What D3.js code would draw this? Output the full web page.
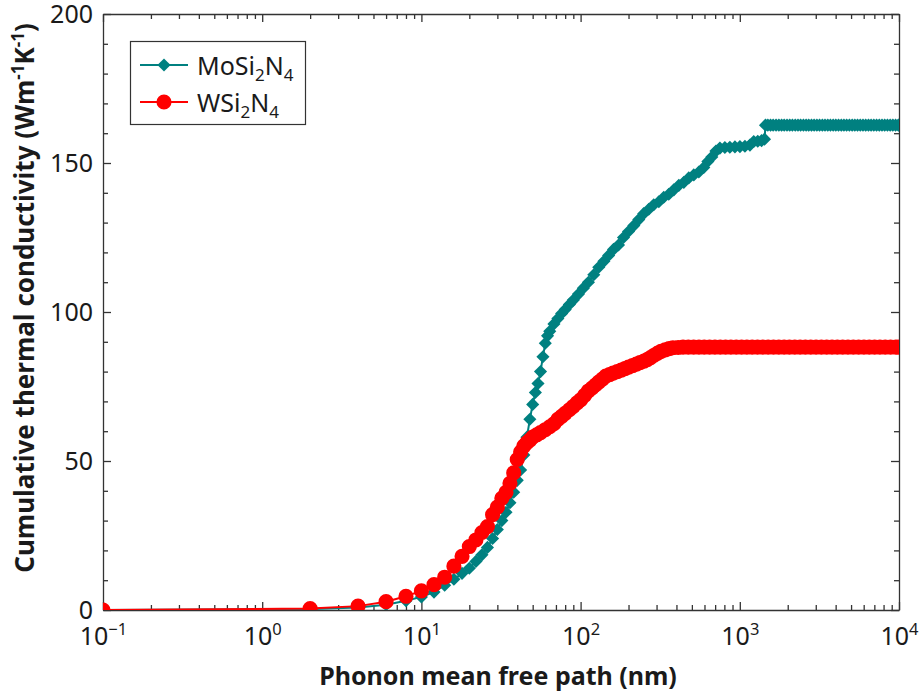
<!DOCTYPE html>
<html>
<head>
<meta charset="utf-8">
<script src="https://cdn.jsdelivr.net/npm/d3@7"></script>
<style>
    body { margin: 0; background: #fff; }
    svg text { font-family: "Noto Sans", sans-serif; fill: #1a1a1a; }
    .axis path, .axis line { stroke: #333; stroke-width: 1.3; }
</style>
</head>
<body>
<div id="chart"></div>
<script>

// Data: mean free path (nm) and cumulative kappa (W/mK)

let moMfp = [0.1, 2, 4, 6, 8, 10,
    12, 14, 16, 18, 20, 22, 24, 26, 28, 30, 32, 34, 36, 38, 40,
    42, 44, 46, 48, 50, 52, 54, 56, 58, 60, 62, 64,
    68, 72, 76, 80, 85, 90,
    97, 104, 112, 121, 130, 140, 150, 161, 173, 186,
    200, 216, 232, 249, 268, 288, 310, 333, 358, 385,
    414, 445, 478, 514, 553, 594, 630, 667, 708, 750,
    806, 866, 932, 1002, 1077, 1158, 1224, 1297, 1370, 1430,
    1450, 1500, 1560, 1620, 1690, 1760, 1830, 1900, 1980, 2060,
    2140, 2230, 2320, 2410, 2510, 2610, 2710, 2820, 2930, 3050,
    3170, 3300, 3430, 3570, 3710, 3860, 4010, 4170, 4340, 4510,
    4690, 4880, 5080, 5280, 5490, 5710, 5940, 6180, 6430, 6680,
    6950, 7230, 7520, 7820, 8130, 8460, 8800, 9150, 9520, 9900,
    10000];

let moKappa = [0, 0.3, 0.8, 1.8, 3.1, 4.4,
    6, 8.3, 10.3, 12.3, 14, 16.3, 18.5, 21, 24, 27, 30, 32.8, 36, 39.5, 43.5,
    47, 52, 58, 64, 69, 73, 76, 80, 85, 89.5, 92, 93.5,
    96, 97.8, 99.5, 100.8, 102.5, 104,
    106, 108, 110, 112.5, 115, 117, 119, 121, 122.5, 125,
    127, 129, 131, 133, 134.5, 136, 137, 138.5, 139.5, 141,
    142.5, 143.5, 145, 146, 147, 148.5, 150.5, 152, 154, 155,
    155.2, 155.3, 155.4, 155.5, 155.6, 156, 157.2, 157.3, 157.5, 158,
    162.7, 162.7, 162.7, 162.7, 162.7, 162.7, 162.7, 162.7, 162.7, 162.7,
    162.7, 162.7, 162.7, 162.7, 162.7, 162.7, 162.7, 162.7, 162.7, 162.7,
    162.7, 162.7, 162.7, 162.7, 162.7, 162.7, 162.7, 162.7, 162.7, 162.7,
    162.7, 162.7, 162.7, 162.7, 162.7, 162.7, 162.7, 162.7, 162.7, 162.7,
    162.7, 162.7, 162.7, 162.7, 162.7, 162.7, 162.7, 162.7, 162.7, 162.7,
    162.7];

let wMfp = [0.1, 2, 4, 6, 8, 10,
    12, 14, 16, 18, 20, 22, 24, 26, 28, 30, 32, 34, 36, 38, 40,
    42, 44, 46, 48, 50,
    53, 56, 60, 64, 68, 72, 76, 80, 85, 90, 95, 100,
    106, 112, 118, 124, 130, 137, 144, 152, 160, 170,
    180, 190, 200, 212, 224, 236, 250, 262, 275, 290,
    305, 320, 340, 360, 380, 410,
    440, 475, 513, 554, 598, 646, 698, 754, 814, 879,
    950, 1026, 1108, 1196, 1292, 1395, 1507, 1628, 1758, 1899,
    2050, 2215, 2392, 2583, 2790, 3013, 3254, 3515, 3796, 4100,
    4428, 4782, 5165, 5578, 6024, 6506, 7027, 7589, 8196, 8852,
    9560, 10000];

let wKappa = [0, 0.5, 1.3, 2.8, 4.6, 6.4,
    8.5, 11, 14.7, 18, 21.3, 23.5, 26, 28, 32, 34.5, 37.5, 39.5, 42.5, 46, 50.5,
    53, 55, 56.2, 57, 58,
    58.8, 59.5, 60.5, 61.5, 62.5, 64, 65, 66, 67.2, 68.3, 69.5, 70.5,
    72, 73.5, 74.5, 75.5, 76.5, 77.5, 78.5, 79, 79.5, 80,
    80.5, 81, 81.5, 82, 82.5, 83, 83.5, 84, 84.7, 85.5,
    86.2, 86.8, 87.3, 87.7, 88, 88.1,
    88.2, 88.2, 88.2, 88.2, 88.2, 88.2, 88.2, 88.2, 88.2, 88.2,
    88.2, 88.2, 88.2, 88.2, 88.2, 88.2, 88.2, 88.2, 88.2, 88.2,
    88.2, 88.2, 88.2, 88.2, 88.2, 88.2, 88.2, 88.2, 88.2, 88.2,
    88.2, 88.2, 88.2, 88.2, 88.2, 88.2, 88.2, 88.2, 88.2, 88.2,
    88.2, 88.2];

let xTickValues = [0.1, 1, 10, 100, 1000, 10000];
let xTickExps = ["\u22121", "0", "1", "2", "3", "4"];
let yTickValues = [0, 50, 100, 150, 200];

let moColor = "#008080",
    wColor = "#ff0000";


// Chart area

let margin = {top: 14, right: 23, bottom: 85, left: 103},
    width = 922 - margin.left - margin.right,
    height = 695 - margin.top - margin.bottom;

let root = d3.select("#chart").append("svg")
    .attr("width", 922)
    .attr("height", 695);

let svg = root.append("g")
    .attr("transform", "translate(" + margin.left + "," + margin.top + ")");

let x = d3.scaleLog()
    .domain([0.1, 10000])
    .range([0, width]);

let y = d3.scaleLinear()
    .domain([0, 200])
    .range([height, 0]);

svg.append("clipPath")
    .attr("id", "plot-clip")
    .append("rect")
    .attr("width", width)
    .attr("height", height);


// ---- AXES ----

let xMinor = x.ticks().filter(d => Math.abs(Math.log10(d) - Math.round(Math.log10(d))) > 1e-6);
let yMinor = y.ticks(20).filter(d => yTickValues.indexOf(d) < 0);

let xAxisG = svg.append("g")
    .attr("class", "axis")
    .attr("transform", "translate(0," + height + ")")
    .call(d3.axisBottom(x).tickValues(xTickValues).tickSizeInner(-8).tickSizeOuter(0)
        .tickPadding(17).tickFormat(""))
    .attr("font-size", 25);

xAxisG.selectAll(".tick text").each(function(d, i) {
    let t = d3.select(this);
    t.text("10");
    t.append("tspan")
        .attr("dy", "-0.62em")
        .attr("font-size", "0.66em")
        .text(xTickExps[i]);
});

svg.append("g")
    .attr("class", "axis")
    .attr("transform", "translate(0," + height + ")")
    .call(d3.axisBottom(x).tickValues(xMinor).tickSize(-5).tickFormat(""))
    .select(".domain").remove();

svg.append("g")
    .attr("class", "axis")
    .call(d3.axisTop(x).tickValues(xTickValues).tickSizeInner(-8).tickSizeOuter(0).tickFormat(""));

svg.append("g")
    .attr("class", "axis")
    .call(d3.axisTop(x).tickValues(xMinor).tickSize(-5).tickFormat(""))
    .select(".domain").remove();

svg.append("g")
    .attr("class", "axis")
    .call(d3.axisLeft(y).tickValues(yTickValues).tickSizeInner(-8).tickSizeOuter(0).tickPadding(10))
    .attr("font-size", 25);

svg.append("g")
    .attr("class", "axis")
    .call(d3.axisLeft(y).tickValues(yMinor).tickSize(-5).tickFormat(""))
    .select(".domain").remove();

svg.append("g")
    .attr("class", "axis")
    .attr("transform", "translate(" + width + ",0)")
    .call(d3.axisRight(y).tickValues(yTickValues).tickSizeInner(-8).tickSizeOuter(0).tickFormat(""));

svg.append("g")
    .attr("class", "axis")
    .attr("transform", "translate(" + width + ",0)")
    .call(d3.axisRight(y).tickValues(yMinor).tickSize(-5).tickFormat(""))
    .select(".domain").remove();


// ---- SERIES ----

let diamond = d3.symbol(d3.symbolSquare, 86)();
let circle = d3.symbol(d3.symbolCircle, 180)();

let plot = svg.append("g").attr("clip-path", "url(#plot-clip)");

function drawSeries(mfp, kappa, color, marker, rot) {
    let pts = mfp.map((m, i) => ({m: m, k: kappa[i]}));

    plot.append("path")
        .datum(pts)
        .attr("fill", "none")
        .attr("stroke", color)
        .attr("stroke-width", 2)
        .attr("d", d3.line().x(d => x(d.m)).y(d => y(d.k)));

    plot.append("g").selectAll("path")
        .data(pts)
        .enter()
        .append("path")
        .attr("d", marker)
        .attr("fill", color)
        .attr("transform", d => "translate(" + x(d.m) + "," + y(d.k) + ") rotate(" + rot + ")");
}

drawSeries(moMfp, moKappa, moColor, diamond, 45);
drawSeries(wMfp, wKappa, wColor, circle, 0);


// ---- TITLES ----

svg.append("text")
    .attr("x", width / 2 - 3)
    .attr("y", height + 75)
    .attr("text-anchor", "middle")
    .attr("font-size", 25)
    .attr("font-weight", "bold")
    .text("Phonon mean free path (nm)");

let yTitle = root.append("text")
    .attr("transform", "translate(34,298) rotate(-90)")
    .attr("text-anchor", "middle")
    .attr("font-size", 26)
    .attr("font-weight", "bold");
yTitle.append("tspan").text("Cumulative thermal conductivity (Wm");
yTitle.append("tspan").attr("dy", -10).attr("font-size", 17).text("-1");
yTitle.append("tspan").attr("dy", 10).text("K");
yTitle.append("tspan").attr("dy", -10).attr("font-size", 17).text("-1");
yTitle.append("tspan").attr("dy", 10).text(")");


// ---- LEGEND ----

let legend = root.append("g");

legend.append("rect")
    .attr("x", 130.5)
    .attr("y", 41.5)
    .attr("width", 175)
    .attr("height", 83)
    .attr("fill", "#fff")
    .attr("stroke", "#333")
    .attr("stroke-width", 1.2);

let legendItems = [
    {name: ["MoSi", "2", "N", "4"], color: moColor, marker: diamond, rot: 45, y: 65},
    {name: ["WSi", "2", "N", "4"], color: wColor, marker: circle, rot: 0, y: 102}
];

legendItems.forEach(function(item) {
    legend.append("line")
        .attr("x1", 140).attr("x2", 188)
        .attr("y1", item.y).attr("y2", item.y)
        .attr("stroke", item.color)
        .attr("stroke-width", 2);
    legend.append("path")
        .attr("d", item.marker)
        .attr("fill", item.color)
        .attr("transform", "translate(164," + item.y + ") rotate(" + item.rot + ")");
    let t = legend.append("text")
        .attr("x", 197)
        .attr("y", item.y + 10)
        .attr("font-size", 25);
    t.append("tspan").text(item.name[0]);
    t.append("tspan").attr("dy", 6).attr("font-size", 17).text(item.name[1]);
    t.append("tspan").attr("dy", -6).text(item.name[2]);
    t.append("tspan").attr("dy", 6).attr("font-size", 17).text(item.name[3]);
});

</script>
</body>
</html>
